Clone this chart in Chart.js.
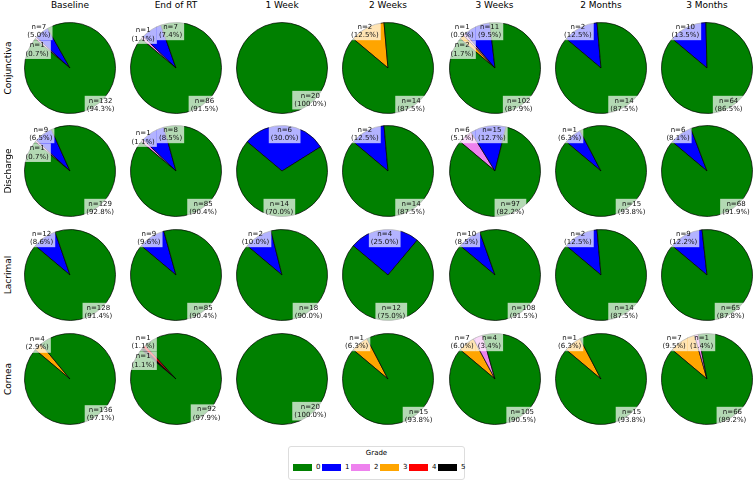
<!DOCTYPE html>
<html>
<head>
<meta charset="utf-8">
<script src="https://cdn.jsdelivr.net/npm/chart.js@4.4.0/dist/chart.umd.min.js"></script>
<style>
  html,body{margin:0;padding:0;background:#fff;}
  #wrap{position:relative;width:754px;height:482px;overflow:hidden;font-family:"DejaVu Sans",sans-serif;color:#000;}
  .cell{position:absolute;width:106px;height:104px;}
  .cell canvas{display:block;}
  .ctitle{position:absolute;top:0px;font-size:9px;line-height:11px;text-align:center;width:100px;white-space:nowrap;}
  .rtitle{position:absolute;font-size:9px;line-height:11px;white-space:nowrap;transform:translate(-50%,-50%) rotate(-90deg);}
  #legend{position:absolute;left:288px;top:446px;width:177px;height:34px;border:1px solid #ddd;border-radius:3px;box-sizing:border-box;background:#fff;}
  #legend .lt{position:absolute;top:2px;width:100%;text-align:center;font-size:7px;line-height:9px;}
  #legend .sw{position:absolute;top:17px;width:19px;height:7px;}
  #legend .lb{position:absolute;top:15px;font-size:7px;line-height:10px;}
</style>
</head>
<body>
<div id="wrap"></div>
<script>
// ---- data ----
const grades = ['0', '1', '2', '3', '4', '5'];
const timepoints = ['Baseline', 'End of RT', '1 Week', '2 Weeks', '3 Weeks', '2 Months', '3 Months'];
const sites = ['Conjunctiva', 'Discharge', 'Lacrimal', 'Cornea'];
// counts per grade [0,1,2,3,4,5] for each timepoint
const conjunctiva = [
  [132, 7, 1, 0, 0, 0],
  [86, 7, 1, 0, 0, 0],
  [20, 0, 0, 0, 0, 0],
  [14, 0, 0, 2, 0, 0],
  [102, 11, 1, 2, 0, 0],
  [14, 2, 0, 0, 0, 0],
  [64, 10, 0, 0, 0, 0]
];
const discharge = [
  [129, 9, 1, 0, 0, 0],
  [85, 8, 1, 0, 0, 0],
  [14, 6, 0, 0, 0, 0],
  [14, 2, 0, 0, 0, 0],
  [97, 15, 6, 0, 0, 0],
  [15, 1, 0, 0, 0, 0],
  [68, 6, 0, 0, 0, 0]
];
const lacrimal = [
  [128, 12, 0, 0, 0, 0],
  [85, 9, 0, 0, 0, 0],
  [18, 2, 0, 0, 0, 0],
  [12, 4, 0, 0, 0, 0],
  [108, 10, 0, 0, 0, 0],
  [14, 2, 0, 0, 0, 0],
  [65, 9, 0, 0, 0, 0]
];
const cornea = [
  [136, 0, 0, 4, 0, 0],
  [92, 0, 0, 0, 1, 1],
  [20, 0, 0, 0, 0, 0],
  [15, 0, 0, 1, 0, 0],
  [105, 0, 4, 7, 0, 0],
  [15, 0, 0, 1, 0, 0],
  [66, 0, 1, 7, 0, 0]
];
const siteData = [conjunctiva, discharge, lacrimal, cornea];

// ---- style ----
const gradeColors = ['#008000', '#0000ff', '#ee82ee', '#ffa500', '#ff0000', '#000000'];
const colCenters = [70, 176, 282, 388, 494.5, 601, 707];
const rowCenters = [67.5, 170.5, 274.5, 378.5];
const R = 45.5;
const LH = 8.3;

const wrap = document.getElementById('wrap');

const pieLabels = {
  id: 'pieLabels',
  afterDatasetsDraw(chart) {
    const ctx = chart.ctx;
    const meta = chart.getDatasetMeta(0);
    const ds = chart.data.datasets[0];
    const total = ds.data.reduce((a, b) => a + b, 0);
    ctx.save();
    if (meta.data.length === 1) {
      const a = meta.data[0];
      ctx.beginPath();
      ctx.arc(a.x, a.y, a.outerRadius, 0, Math.PI * 2);
      ctx.strokeStyle = '#000';
      ctx.lineWidth = 0.7;
      ctx.stroke();
    }
    ctx.font = '7px "DejaVu Sans"';
    const items = [];
    meta.data.forEach((arc, i) => {
      const v = ds.data[i];
      const share = v / total;
      const p = arc.getProps(['x', 'y', 'startAngle', 'endAngle', 'outerRadius'], true);
      const mid = (p.startAngle + p.endAngle) / 2;
      const f = (share > 0.2 && share < 0.8) ? 0.83 : 1.1;
      const l1 = 'n=' + v;
      const l2 = '(' + (share * 100).toFixed(1) + '%)';
      const w = Math.max(ctx.measureText(l1).width, ctx.measureText(l2).width) + 4;
      const h = 2 * LH + 2;
      items.push({cx: p.x + Math.cos(mid) * p.outerRadius * f, cy: p.y + Math.sin(mid) * p.outerRadius * f,
        w, h, l1, l2, x: p.x, y: p.y, r: p.outerRadius, mid});
    });
    const clampAll = () => items.forEach(it => {
      const lim = it.r * 1.02;
      it.cx = Math.min(Math.max(it.cx, it.x - lim + it.w / 2), it.x + lim - it.w / 2);
      it.cy = Math.min(Math.max(it.cy, it.y - lim + it.h / 2), it.y + lim - it.h / 2);
    });
    clampAll();
    for (let it = 0; it < 100; it++) {
      let moved = false;
      for (let i = 0; i < items.length; i++) {
        for (let j = i + 1; j < items.length; j++) {
          const A = items[i], B = items[j];
          const dx = B.cx - A.cx, dy = B.cy - A.cy;
          const ox = (A.w + B.w) / 2 - Math.abs(dx);
          const oy = (A.h + B.h) / 2 - Math.abs(dy);
          if (ox > 0 && oy > 0) {
            moved = true;
            const adiff = Math.abs(A.mid - B.mid) * 180 / Math.PI;
            if (adiff < 14) {
              const s = dy >= 0 ? 1 : -1;
              A.cy -= s * (oy / 2 + 0.2); B.cy += s * (oy / 2 + 0.2);
            } else {
              const s = dx >= 0 ? 1 : -1;
              A.cx -= s * (ox / 2 + 0.2); B.cx += s * (ox / 2 + 0.2);
            }
          }
        }
      }
      clampAll();
      if (!moved) break;
    }
    items.forEach(it => {
      ctx.fillStyle = 'rgba(255,255,255,0.7)';
      ctx.fillRect(it.cx - it.w / 2, it.cy - it.h / 2, it.w, it.h);
      ctx.fillStyle = '#111';
      ctx.textAlign = 'center';
      ctx.textBaseline = 'middle';
      ctx.fillText(it.l1, it.cx, it.cy - LH / 2);
      ctx.fillText(it.l2, it.cx, it.cy + LH / 2);
    });
    ctx.restore();
  }
};

siteData.forEach((rows, r) => {
  rows.forEach((counts, c) => {
    // matplotlib-style counter-clockwise order from 140deg == reversed clockwise order
    const idx = grades.map((g, i) => i).filter(i => counts[i] > 0).reverse();
    const div = document.createElement('div');
    div.className = 'cell';
    div.style.left = (colCenters[c] - 53) + 'px';
    div.style.top = (rowCenters[r] - 52) + 'px';
    const cv = document.createElement('canvas');
    cv.width = 106; cv.height = 104;
    cv.style.width = '106px'; cv.style.height = '104px';
    div.appendChild(cv);
    wrap.appendChild(div);
    new Chart(cv, {
      type: 'pie',
      data: {
        labels: idx.map(i => grades[i]),
        datasets: [{
          data: idx.map(i => counts[i]),
          backgroundColor: idx.map(i => gradeColors[i]),
          borderColor: '#000',
          borderWidth: idx.length === 1 ? 0 : 0.7,
          radius: R,
          hoverOffset: 0
        }]
      },
      options: {
        responsive: false,
        maintainAspectRatio: false,
        devicePixelRatio: 1,
        animation: false,
        events: [],
        rotation: -50,
        layout: {padding: 0},
        plugins: {legend: {display: false}, tooltip: {enabled: false}, title: {display: false}}
      },
      plugins: [pieLabels]
    });
  });
});

// column titles
timepoints.forEach((t, c) => {
  const d = document.createElement('div');
  d.className = 'ctitle';
  d.textContent = t;
  d.style.left = (colCenters[c] - 50) + 'px';
  wrap.appendChild(d);
});
// row titles
sites.forEach((s, r) => {
  const d = document.createElement('div');
  d.className = 'rtitle';
  d.textContent = s;
  d.style.left = '8px';
  d.style.top = rowCenters[r] + 'px';
  wrap.appendChild(d);
});
// legend
const lg = document.createElement('div');
lg.id = 'legend';
lg.innerHTML = '<div class="lt">Grade</div>';
grades.forEach((g, i) => {
  const sw = document.createElement('div');
  sw.className = 'sw';
  sw.style.left = (4 + i * 29) + 'px';
  sw.style.background = gradeColors[i];
  lg.appendChild(sw);
  const lb = document.createElement('div');
  lb.className = 'lb';
  lb.style.left = (27 + i * 29) + 'px';
  lb.textContent = g;
  lg.appendChild(lb);
});
wrap.appendChild(lg);
</script>
</body>
</html>
